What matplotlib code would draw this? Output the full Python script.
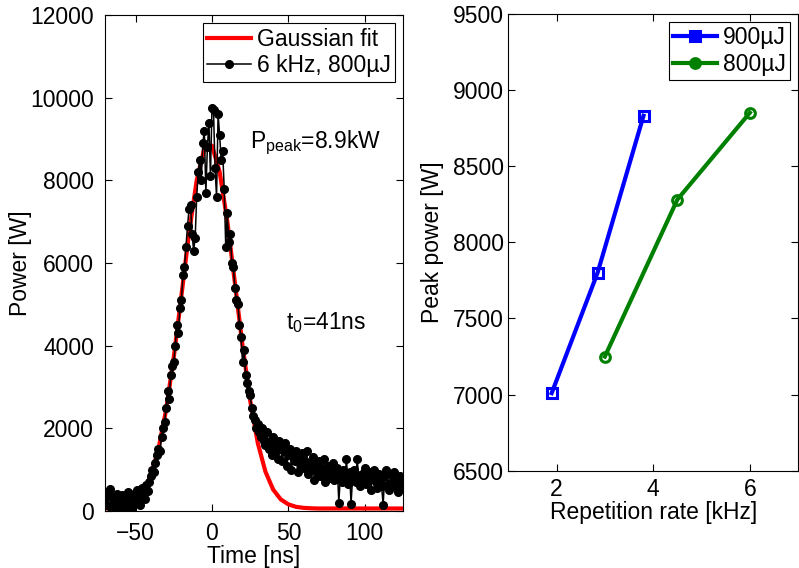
import numpy as np
import matplotlib
matplotlib.use('Agg')
from matplotlib import pyplot as plt

plt.rcParams['font.family'] = ['Liberation Sans', 'DejaVu Sans']
plt.rcParams['font.size'] = 16.5
plt.rcParams['mathtext.fontset'] = 'custom'
plt.rcParams['mathtext.rm'] = 'Liberation Sans'

# measured pulse, 1 ns sampling from -70 ns
t_start = -70
power = [
    300, 150, 450, 520, 80, 350, 200, 30, 420, 250,
    100, 380, 180, 0, 300, 450, 120, 260, 60, 400,
    220, 500, 350, 150, 560, 420, 300, 620, 480, 700,
    850, 1000, 950, 1150, 1350, 1500, 1450, 1800, 2000, 2150,
    2500, 2900, 2700, 3300, 3500, 3600, 4000, 4500, 4300, 4900,
    5100, 5700, 5900, 6400, 6900, 7300, 7400, 6700, 6300, 6600,
    7600, 8200, 8500, 8000, 8900, 9200, 7700, 8800, 9400, 8100,
    9750, 9700, 8300, 7600, 9600, 9100, 8500, 8700, 7800, 6400,
    7200, 6500, 6700, 6000, 5900, 5400, 5100, 5000, 4500, 4200,
    3600, 3900, 3300, 3100, 2900, 2800, 2500, 2300, 2200, 2000,
    2100, 1900, 1800, 2000, 1700, 1600, 1900, 1500, 1700, 1350,
    1800, 1400, 1600, 1250, 1700, 1500, 1200, 1450, 1650, 1100,
    1350, 1500, 1000, 1300, 1200, 1450, 950, 1250, 1100, 1400,
    1050, 1200, 1450, 900, 1150, 1000, 1300, 750, 1100, 950,
    1200, 850, 1050, 1250, 700, 950, 1100, 800, 1000, 1150,
    750, 900, 1050, 200, 850, 700, 1000, 800, 1250, 650,
    950, 180, 800, 1000, 700, 1250, 850, 600, 900, 750,
    1050, 650, 800, 950, 500, 850, 1000, 700, 550, 900,
    750, 600, 150, 850, 1000, 650, 500, 900, 700, 950,
    600, 800, 450, 850, 700, 550,
]
time = np.arange(len(power)) + t_start

# gaussian fit read every 5 ns
fit_time = [-70, -65, -60, -55, -50, -45, -40, -35, -30, -25, -20, -15, -10, -5,
            0, 5, 10, 15, 20, 25, 30, 35, 40, 45, 50, 55, 60, 65, 70, 125]
fit_power = [60, 70, 90, 140, 250, 460, 850, 1500, 2450, 3720, 5210, 6730, 8000, 8770,
             8840, 8210, 7020, 5520, 4000, 2670, 1640, 950, 520, 280, 160, 100, 75, 65, 60, 60]

rate_900 = [1.9, 2.85, 3.8]
peak_900 = [7010, 7800, 8830]
rate_800 = [3.0, 4.5, 6.0]
peak_800 = [7250, 8280, 8850]

fig = plt.figure(figsize=(7.99, 5.68), dpi=100)
ax1 = fig.add_axes([0.1314, 0.1004, 0.373, 0.873])
ax2 = fig.add_axes([0.636, 0.171, 0.363, 0.805])

ax1.plot(fit_time, fit_power, color='r', lw=3, label='Gaussian fit')
ax1.plot(time, power, color='k', lw=1.1, marker='o', ms=5.5, label='6 kHz, 800µJ')
ax1.set_xlim(-70, 125)
ax1.set_ylim(0, 12000)
ax1.set_xticks([-50, 0, 50, 100])
ax1.set_xticklabels(['\u221250', '0', '50', '100'])
ax1.set_yticks(range(0, 12001, 2000))
ax1.set_xlabel('Time [ns]', labelpad=0)
ax1.set_ylabel('Power [W]')
ax1.yaxis.set_label_coords(-0.245, 0.5)
ax1.text(25, 8780, r'P$_{\mathrm{peak}}$=8.9kW', ha='left', va='baseline')
ax1.text(48.5, 4400, r't$_{\mathrm{0}}$=41ns', ha='left', va='baseline')
leg1 = ax1.legend(loc='upper right', handlelength=1.9, borderpad=0.2,
                  labelspacing=0.15, handletextpad=0.25, borderaxespad=0.35,
                  fancybox=False, framealpha=1)
leg1.get_frame().set_edgecolor('k')
leg1.get_frame().set_linewidth(0.8)

ax2.plot(rate_900, peak_900, color='b', lw=3, marker='s', ms=7, mew=2.2,
         mfc='none', label='900µJ')
ax2.plot(rate_800, peak_800, color=(0, 0.5, 0), lw=3, marker='o', ms=7, mew=2.2,
         mfc='none', label='800µJ')
ax2.set_xlim(1, 7)
ax2.set_ylim(6500, 9500)
ax2.set_xticks([2, 4, 6])
ax2.set_yticks(range(6500, 9501, 500))
ax2.set_xlabel('Repetition rate [kHz]', labelpad=0)
ax2.set_ylabel('Peak power [W]')
ax2.yaxis.set_label_coords(-0.222, 0.5)
leg2 = ax2.legend(loc='upper right', handlelength=1.9, borderpad=0.2,
                  labelspacing=0.15, handletextpad=0.25, borderaxespad=0.35,
                  fancybox=False, framealpha=1)
leg2.get_frame().set_edgecolor('k')
leg2.get_frame().set_linewidth(0.8)
for h in leg2.legend_handles:
    h.set_markerfacecolor(h.get_color())

for a in (ax1, ax2):
    a.tick_params(direction='in', top=True, right=True, length=5, width=0.8)
    for s in a.spines.values():
        s.set_linewidth(0.8)
ax1.tick_params(axis='x', pad=8)
ax1.tick_params(axis='y', pad=8)
ax2.tick_params(axis='x', pad=5)
ax2.tick_params(axis='y', pad=3)

fig.savefig('out.png', dpi=100)
plt.close(fig)
